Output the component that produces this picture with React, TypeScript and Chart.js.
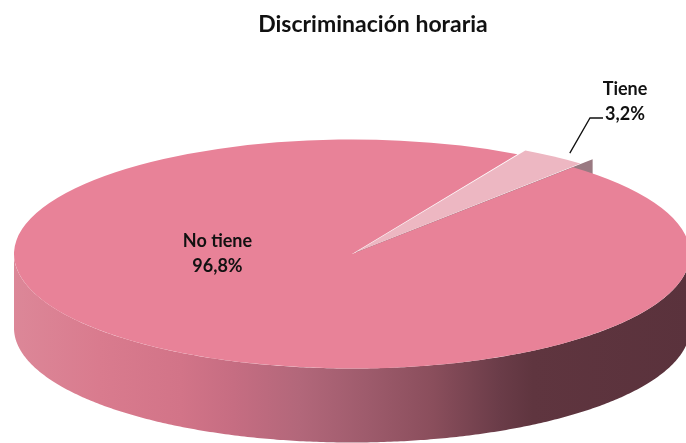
import React, { useEffect, useRef } from "react";
import { Chart, registerables } from "chart.js";

Chart.register(...registerables);

const TITLE = "Discriminación horaria";
const LABELS = ["Tiene", "No tiene"];
const VALUES = [3.2, 96.8];
const VALUE_TEXT = ["3,2%", "96,8%"];
const TOP_COLORS = ["#EDB7C2", "#E88298"];
const OFFSETS = [16, 0];
const ROTATION_DEG = 29.3;

// screen geometry of the 3D pie
const GEOM = { cx: 352, cy: 254, rx: 338, ry: 114.5, depth: 74 };
const SIDE_STOPS: [number, string][] = [
  [0, "#DC8798"],
  [0.127, "#D97B8E"],
  [0.246, "#D27488"],
  [0.324, "#C66D82"],
  [0.423, "#B2677A"],
  [0.522, "#9E5B6C"],
  [0.62, "#8A4E5C"],
  [0.719, "#6A3C48"],
  [0.768, "#5F353F"],
  [1, "#5A323C"],
];
const FACE_COLOR = "#9A7A82";
const TITLE_FONT = "bold 23px Lato, 'Open Sans', sans-serif";
const LABEL_FONT = "bold 18px Lato, 'Open Sans', sans-serif";

function arcInfo(arc: any) {
  const o = arc.options.offset || 0;
  const off = o / 4;
  const mid = (arc.startAngle + arc.endAngle) / 2;
  const circ = arc.endAngle - arc.startAngle;
  const fix = 1 - Math.sin(Math.min(Math.PI, circ || 0));
  const r = arc.outerRadius + o * fix;
  return {
    cx: arc.x + Math.cos(mid) * off,
    cy: arc.y + Math.sin(mid) * off,
    r,
    start: arc.startAngle,
    end: arc.endAngle,
    mid,
  };
}

const pie3d = {
  id: "pie3d",
  beforeDatasetsDraw(chart: any) {
    const meta = chart.getDatasetMeta(0);
    const arcs = meta.data as any[];
    const ctx = chart.ctx as CanvasRenderingContext2D;
    const base = arcs[arcs.length - 1];
    const X0 = base.x, Y0 = base.y, R0 = base.outerRadius;
    const sx = GEOM.rx / R0, sy = GEOM.ry / R0;
    const toS = (px: number, py: number) => [GEOM.cx + (px - X0) * sx, GEOM.cy + (py - Y0) * sy];
    chart.$pie3d = { toS };
    const D = GEOM.depth;

    // radial faces of exploded slices (only those facing the viewer)
    arcs.forEach((arc) => {
      if (!(arc.options.offset > 0)) return;
      const g = arcInfo(arc);
      const faces: number[] = [];
      if (-Math.cos(g.start) > 0) faces.push(g.start);
      if (Math.cos(g.end) > 0) faces.push(g.end);
      faces.forEach((a) => {
        const c = toS(g.cx, g.cy);
        const p = toS(g.cx + g.r * Math.cos(a), g.cy + g.r * Math.sin(a));
        ctx.beginPath();
        ctx.moveTo(c[0], c[1]);
        ctx.lineTo(p[0], p[1]);
        ctx.lineTo(p[0], p[1] + D);
        ctx.lineTo(c[0], c[1] + D);
        ctx.closePath();
        ctx.fillStyle = FACE_COLOR;
        ctx.fill();
      });
    });

    // outer rim
    const grad = ctx.createLinearGradient(GEOM.cx - GEOM.rx, 0, GEOM.cx + GEOM.rx, 0);
    SIDE_STOPS.forEach(([s, c]) => grad.addColorStop(s, c));
    arcs.forEach((arc) => {
      const g = arcInfo(arc);
      for (let k = -1; k <= 1; k++) {
        const lo = Math.max(g.start, 2 * Math.PI * k);
        const hi = Math.min(g.end, 2 * Math.PI * k + Math.PI);
        if (hi <= lo) continue;
        const n = Math.max(2, Math.ceil((hi - lo) / 0.01));
        ctx.beginPath();
        for (let j = 0; j <= n; j++) {
          const t = lo + ((hi - lo) * j) / n;
          const p = toS(g.cx + g.r * Math.cos(t), g.cy + g.r * Math.sin(t));
          if (j === 0) ctx.moveTo(p[0], p[1]);
          else ctx.lineTo(p[0], p[1]);
        }
        for (let j = n; j >= 0; j--) {
          const t = lo + ((hi - lo) * j) / n;
          const p = toS(g.cx + g.r * Math.cos(t), g.cy + g.r * Math.sin(t));
          ctx.lineTo(p[0], p[1] + D);
        }
        ctx.closePath();
        ctx.fillStyle = grad;
        ctx.fill();
      }
    });

    ctx.save();
    ctx.translate(GEOM.cx, GEOM.cy);
    ctx.scale(sx, sy);
    ctx.translate(-X0, -Y0);
  },
  afterDatasetsDraw(chart: any) {
    chart.ctx.restore();
  },
  afterDraw(chart: any) {
    const ctx = chart.ctx as CanvasRenderingContext2D;
    const meta = chart.getDatasetMeta(0);
    const arcs = meta.data as any[];
    const toS = chart.$pie3d.toS;
    ctx.save();
    ctx.fillStyle = "#111";
    ctx.textAlign = "center";
    ctx.textBaseline = "alphabetic";

    // title
    ctx.font = TITLE_FONT;
    ctx.fillText(TITLE, 373, 32);

    ctx.font = LABEL_FONT;
    // "No tiene" label inside the pie
    const nx = GEOM.cx - 0.398 * GEOM.rx;
    ctx.fillText(LABELS[1], nx, GEOM.cy - 7);
    ctx.fillText(VALUE_TEXT[1], nx, GEOM.cy + 18);

    // "Tiene" label outside with leader
    const lx = 625;
    const ly = 120;
    ctx.fillText(LABELS[0], lx, ly - 25);
    ctx.fillText(VALUE_TEXT[0], lx, ly);
    const g = arcInfo(arcs[0]);
    const p = toS(g.cx + g.r * 1.0 * Math.cos(g.mid + 0.02), g.cy + g.r * 1.0 * Math.sin(g.mid + 0.02));
    ctx.beginPath();
    ctx.moveTo(p[0], p[1]);
    ctx.lineTo(lx - 35, ly - 2);
    ctx.lineTo(lx - 22, ly - 2);
    ctx.strokeStyle = "#111";
    ctx.lineWidth = 1.3;
    ctx.stroke();
    ctx.restore();
  },
};

export default function App() {
  const ref = useRef<HTMLCanvasElement | null>(null);
  useEffect(() => {
    document.body.style.margin = "0";
    const canvas = ref.current;
    if (!canvas) return;
    const chart = new Chart(canvas, {
      type: "pie",
      data: {
        labels: LABELS,
        datasets: [
          {
            data: VALUES,
            backgroundColor: TOP_COLORS,
            borderWidth: 0,
            offset: OFFSETS,
            clip: false,
          } as any,
        ],
      },
      options: {
        responsive: false,
        animation: false,
        rotation: ROTATION_DEG,
        layout: { padding: { top: 50, bottom: 10, left: 40, right: 40 } },
        plugins: {
          legend: { display: false },
          tooltip: { enabled: false },
          title: { display: false, text: TITLE },
        },
      },
      plugins: [pie3d as any],
    });
    return () => chart.destroy();
  }, []);
  return (
    <div style={{ width: 686, height: 443, background: "#fff" }}>
      <canvas ref={ref} width={686} height={443} style={{ display: "block" }} />
    </div>
  );
}
